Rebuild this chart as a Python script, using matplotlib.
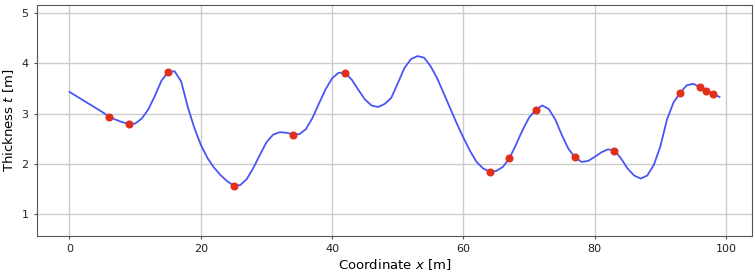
import matplotlib
matplotlib.use("Agg")
import matplotlib.pyplot as plt

# thickness profile (one value per metre)
x_profile = list(range(0, 100))
t_profile = [
    3.43, 3.35, 3.27, 3.19, 3.11, 3.03, 2.94, 2.88, 2.83, 2.80,
    2.80, 2.90, 3.08, 3.35, 3.65, 3.82, 3.84, 3.64, 3.14, 2.72,
    2.38, 2.12, 1.93, 1.78, 1.66, 1.57, 1.58, 1.70, 1.92, 2.18,
    2.43, 2.58, 2.63, 2.62, 2.59, 2.59, 2.69, 2.91, 3.20, 3.48,
    3.70, 3.81, 3.81, 3.67, 3.47, 3.28, 3.16, 3.13, 3.19, 3.31,
    3.60, 3.90, 4.08, 4.14, 4.11, 3.94, 3.70, 3.40, 3.10, 2.80,
    2.52, 2.26, 2.04, 1.91, 1.85, 1.86, 1.94, 2.11, 2.38, 2.67,
    2.92, 3.07, 3.16, 3.09, 2.88, 2.57, 2.30, 2.13, 2.04, 2.06,
    2.14, 2.23, 2.29, 2.27, 2.11, 1.91, 1.77, 1.71, 1.77, 1.98,
    2.35, 2.88, 3.22, 3.41, 3.56, 3.59, 3.53, 3.46, 3.39, 3.33,
]

# measurement points
x_meas = [6, 9, 15, 25, 34, 42, 64, 67, 71, 77, 83, 93, 96, 97, 98]
t_meas = [2.93, 2.80, 3.83, 1.56, 2.58, 3.81, 1.85, 2.11, 3.07, 2.13, 2.26, 3.41, 3.53, 3.45, 3.39]

fig, ax = plt.subplots(figsize=(7.55, 2.77), dpi=100)
fig.subplots_adjust(left=0.049, right=0.996, top=0.983, bottom=0.148)

ax.plot(x_profile, t_profile, color="#4a55f5", linewidth=1.3, zorder=2)
ax.plot(x_meas, t_meas, "o", color="#e0301c", markersize=4.8, zorder=3)

ax.set_ylim(0.57, 5.16)
ax.set_xticks([0, 20, 40, 60, 80, 100])
ax.set_yticks([1, 2, 3, 4, 5])
ax.grid(True, color="#cccccc", linewidth=1.0)
ax.set_axisbelow(True)

for spine in ax.spines.values():
    spine.set_color("#555555")
ax.tick_params(colors="#555555", labelcolor="#222222", labelsize=8, length=2.5)

ax.set_xlabel("Coordinate $x$ [m]", fontsize=9.5, labelpad=2)
ax.set_ylabel("Thickness $t$ [m]", fontsize=9.5, labelpad=4)

plt.savefig("out.png", dpi=100)
